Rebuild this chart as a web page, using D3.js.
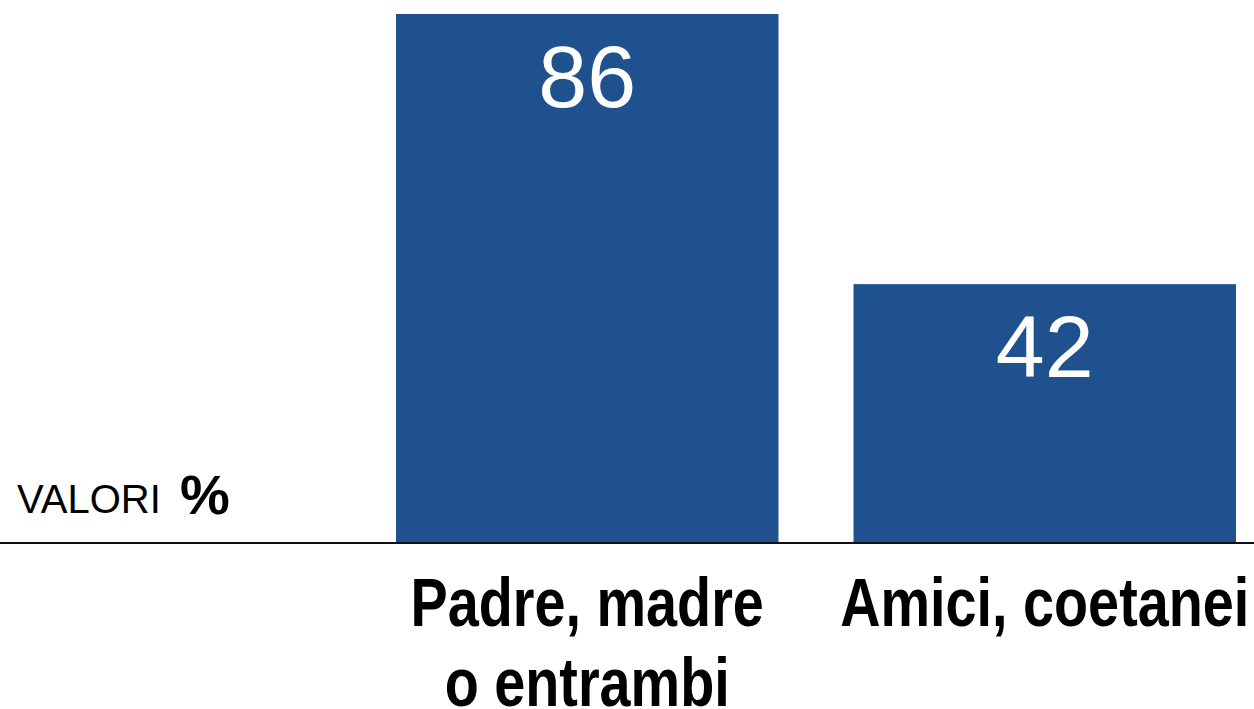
<!DOCTYPE html>
<html>
<head>
<meta charset="utf-8">
<script src="https://cdn.jsdelivr.net/npm/d3@7"></script>
<style>
  body { margin:0; background:#fff; }
  svg { display:block; }
</style>
</head>
<body>
<svg width="1254" height="709"></svg>
<script>
const svgWidth=1254;
const svgHeight=709;

// data
const categories=["Padre, madre\no entrambi","Amici, coetanei"];
const values=[86,42];

const baseY=542;
const topY=14;

const xScale=d3.scaleBand()
    .domain(categories)
    .range([396,1236])
    .paddingInner(0.164)
    .paddingOuter(0);

const yScale=d3.scaleLinear()
    .domain([0,86])
    .range([baseY,topY]);

const svg=d3.select("svg");

svg.append("g")
    .attr("class","bars")
    .selectAll("rect")
    .data(categories)
    .enter()
    .append("rect")
    .attr("x",d=>xScale(d))
    .attr("y",(d,i)=>yScale(values[i]))
    .attr("width",xScale.bandwidth())
    .attr("height",(d,i)=>baseY-yScale(values[i]))
    .style("fill","#1f518f");

svg.append("g")
    .attr("class","values")
    .selectAll("text")
    .data(categories)
    .enter()
    .append("text")
    .attr("x",d=>xScale(d)+xScale.bandwidth()/2)
    .attr("y",(d,i)=>yScale(values[i])+93)
    .attr("text-anchor","middle")
    .style("font-family","'Liberation Sans', Arial, sans-serif")
    .style("font-size","88px")
    .style("fill","#fff")
    .text((d,i)=>values[i]);

// baseline
svg.append("line")
    .attr("x1",0)
    .attr("x2",svgWidth)
    .attr("y1",baseY+1)
    .attr("y2",baseY+1)
    .style("stroke","#111")
    .style("stroke-width",2);

// category labels (condensed look via horizontal squeeze)
const labels=svg.append("g")
    .attr("class","labels")
    .selectAll("text")
    .data(categories)
    .enter()
    .append("text")
    .attr("transform",d=>`translate(${xScale(d)+xScale.bandwidth()/2},626) scale(0.82,1)`)
    .attr("text-anchor","middle")
    .style("font-family","'Liberation Sans', Arial, sans-serif")
    .style("font-weight","bold")
    .style("font-size","68px")
    .style("fill","#000");

labels.selectAll("tspan")
    .data(d=>d.split("\n"))
    .enter()
    .append("tspan")
    .attr("x",0)
    .attr("dy",(d,i)=>i==0 ? 0 : 80)
    .text(d=>d);

// unit label
svg.append("text")
    .attr("x",17)
    .attr("y",513)
    .style("font-family","'Liberation Sans', Arial, sans-serif")
    .style("font-size","40px")
    .style("fill","#000")
    .text("VALORI");
svg.append("text")
    .attr("x",180)
    .attr("y",514)
    .style("font-family","'Liberation Sans', Arial, sans-serif")
    .style("font-size","56px")
    .style("font-weight","bold")
    .style("fill","#000")
    .text("%");
</script>
</body>
</html>
